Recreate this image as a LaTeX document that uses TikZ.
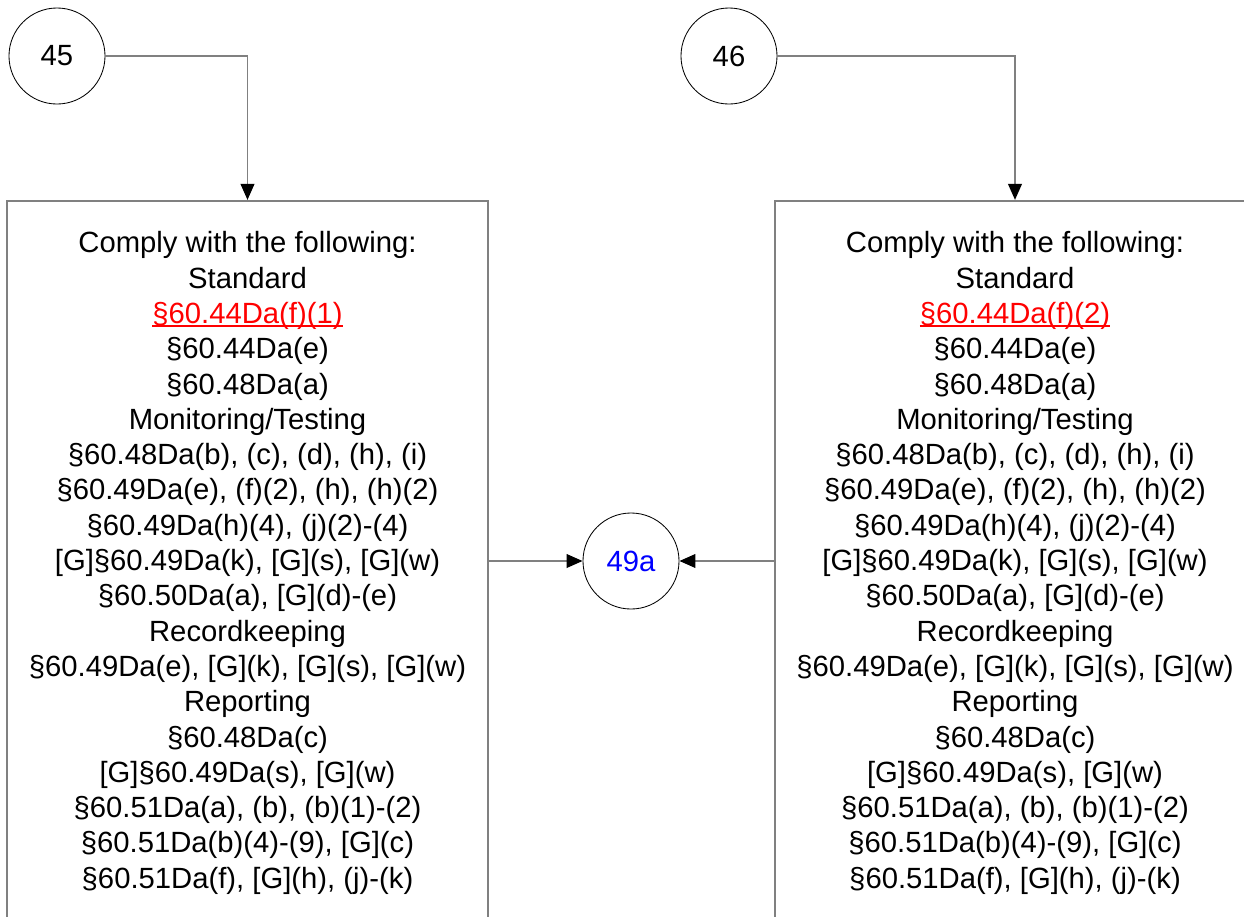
\documentclass[tikz,border=0pt]{standalone}
\usepackage{fontspec}
\setmainfont{Liberation Sans}
\usepackage{xcolor}
\usetikzlibrary{arrows.meta}
\definecolor{linegray}{RGB}{128,128,128}
\newcommand\redlink[1]{\textcolor{red}{\setbox0\hbox{#1}\rlap{\rule[-2.2pt]{\wd0}{1.2pt}}\box0}}

\begin{document}
\begin{tikzpicture}[x=0.025cm, y=0.025cm,
  every node/.style={font=\fontsize{20.8}{25.1}\selectfont},
  refcircle/.style={draw=black, line width=0.6pt, circle, minimum size=2.4cm, inner sep=0pt},
  rulebox/.style={draw=linegray, line width=1.4pt, minimum width=12cm, minimum height=18.1cm, align=center, inner sep=0pt},
  conn/.style={draw=linegray, line width=1.4pt, -{Triangle[length=0.4cm, width=0.34cm, color=black]}}
]
\useasboundingbox (0,0) rectangle (1244,-916);
\clip (0,0) rectangle (1244,-916);

\node[refcircle] (c45) at (57,-56) {45};
\node[refcircle] (c46) at (729,-56) {46};
\node[refcircle, text=blue] (c49a) at (631,-561) {49a};

\node[rulebox] (req45) at (247.5,-563) {
    Comply with the following:\\
    Standard\\
    \redlink{§60.44Da(f)(1)}\\
    §60.44Da(e)\\
    §60.48Da(a)\\
    Monitoring/Testing\\
    §60.48Da(b), (c), (d), (h), (i)\\
    §60.49Da(e), (f)(2), (h), (h)(2)\\
    §60.49Da(h)(4), (j)(2)-(4)\\
    {[G]}§60.49Da(k), [G](s), [G](w)\\
    §60.50Da(a), [G](d)-(e)\\
    Recordkeeping\\
    §60.49Da(e), [G](k), [G](s), [G](w)\\
    Reporting\\
    §60.48Da(c)\\
    {[G]}§60.49Da(s), [G](w)\\
    §60.51Da(a), (b), (b)(1)-(2)\\
    §60.51Da(b)(4)-(9), [G](c)\\
    §60.51Da(f), [G](h), (j)-(k)
};

\node[rulebox] (req46) at (1015,-563) {
    Comply with the following:\\
    Standard\\
    \redlink{§60.44Da(f)(2)}\\
    §60.44Da(e)\\
    §60.48Da(a)\\
    Monitoring/Testing\\
    §60.48Da(b), (c), (d), (h), (i)\\
    §60.49Da(e), (f)(2), (h), (h)(2)\\
    §60.49Da(h)(4), (j)(2)-(4)\\
    {[G]}§60.49Da(k), [G](s), [G](w)\\
    §60.50Da(a), [G](d)-(e)\\
    Recordkeeping\\
    §60.49Da(e), [G](k), [G](s), [G](w)\\
    Reporting\\
    §60.48Da(c)\\
    {[G]}§60.49Da(s), [G](w)\\
    §60.51Da(a), (b), (b)(1)-(2)\\
    §60.51Da(b)(4)-(9), [G](c)\\
    §60.51Da(f), [G](h), (j)-(k)
};

% connectors
\draw[conn] (c45) -| (req45.north);
\draw[conn] (c46) -| (req46.north);
\draw[conn] (c49a -| req45.east) -- (c49a);
\draw[conn] (c49a -| req46.west) -- (c49a);
\end{tikzpicture}
\end{document}
